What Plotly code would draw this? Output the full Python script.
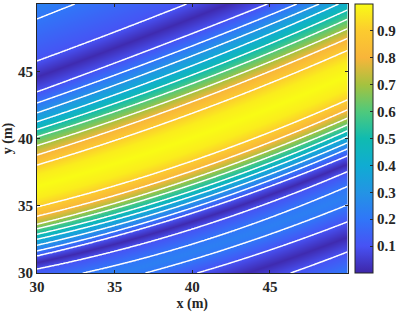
import numpy as np
import plotly.graph_objects as go

# Field value of each white iso-line / band extreme, read from bottom to top
levels = [0.2, 0.1, 0.01, 0.1, 0.2, 0.23, 0.2, 0.1, 0.01, 0.1, 0.2, 0.3, 0.4, 0.5, 0.6, 0.7, 0.8, 0.9, 0.97, 1.0,
          0.97, 0.9, 0.8, 0.7, 0.6, 0.5, 0.4, 0.3, 0.2, 0.1, 0.01, 0.1, 0.2, 0.23]

# y (m) at which each of these levels is crossed, read at five x positions
x_columns = [30, 35, 40, 45, 50]
y_at_x30 = [23.53, 25.02, 26.07, 27.12, 28.11, 28.65, 29.35, 30.32, 30.82, 31.30, 31.66, 32.08, 32.53, 32.90, 33.31, 33.64, 34.24, 34.93, 35.62, 36.47,
            37.32, 38.01, 38.77, 39.46, 40.13, 40.68, 41.25, 41.92, 42.66, 43.48, 44.66, 45.84, 48.88, 49.78]
y_at_x35 = [24.80, 26.28, 27.34, 28.40, 29.44, 29.96, 30.48, 31.60, 32.14, 32.68, 33.05, 33.49, 33.92, 34.30, 34.74, 35.13, 35.72, 36.43, 37.21, 38.16,
            39.11, 39.89, 40.66, 41.38, 42.01, 42.59, 43.23, 43.94, 44.67, 45.58, 46.64, 47.70, 51.19, 52.08]
y_at_x40 = [26.13, 27.62, 28.75, 29.87, 30.94, 31.56, 32.18, 33.27, 33.87, 34.48, 34.86, 35.30, 35.72, 36.12, 36.59, 37.03, 37.61, 38.35, 39.14, 40.12,
            41.10, 41.90, 42.75, 43.46, 44.09, 44.72, 45.43, 46.13, 46.88, 47.79, 49.05, 50.30, 53.50, 54.38]
y_at_x45 = [27.99, 29.48, 30.59, 31.71, 32.90, 33.53, 34.16, 35.28, 35.87, 36.47, 36.91, 37.36, 37.81, 38.22, 38.68, 39.15, 39.74, 40.48, 41.28, 42.26,
            43.24, 44.05, 44.98, 45.65, 46.36, 47.06, 47.77, 48.51, 49.22, 50.11, 51.32, 52.53, 55.73, 56.62]
y_at_x50 = [30.10, 31.58, 32.70, 33.81, 35.06, 35.74, 36.42, 37.53, 38.11, 38.70, 39.22, 39.67, 40.13, 40.56, 41.00, 41.50, 42.12, 42.86, 43.70, 44.72,
            45.74, 46.58, 47.45, 48.19, 48.88, 49.55, 50.30, 50.89, 51.56, 52.38, 53.62, 54.91, 58.10, 59.00]

x_ticks = [30, 35, 40, 45]
y_ticks = [30, 35, 40, 45]
cbar_ticks = [0.1, 0.2, 0.3, 0.4, 0.5, 0.6, 0.7, 0.8, 0.9]

parula = [
    [0.00, "#3E26A8"], [0.10, "#4752F4"], [0.20, "#3076F8"], [0.30, "#2394E4"],
    [0.40, "#10ACD2"], [0.50, "#10BBB0"], [0.60, "#4FC97C"], [0.70, "#A5C23F"],
    [0.80, "#F8B53A"], [0.90, "#FCCB2F"], [1.00, "#F9FB15"],
]

crossings = np.array([y_at_x30, y_at_x35, y_at_x40, y_at_x45, y_at_x50])
xs = np.linspace(30, 50, 311)
ys = np.linspace(30, 50, 270)
fits = [np.polyfit(x_columns, crossings[:, i], 2) for i in range(len(levels))]
z = np.empty((len(ys), len(xs)))
for j, x in enumerate(xs):
    y_cross = np.array([np.polyval(f, x) for f in fits])
    z[:, j] = np.interp(ys, y_cross, levels)
z = np.round(z, 4)

dark = "#262626"
font = dict(family="Liberation Serif", size=15, color=dark, weight="bold")

fig = go.Figure()
fig.add_trace(go.Heatmap(
    x=xs, y=ys, z=z, zmin=0, zmax=1, zsmooth="best", colorscale=parula,
    colorbar=dict(
        x=318 / 359, xanchor="left", xpad=0, y=0.5, yanchor="middle", ypad=0, len=1.0,
        thickness=18, thicknessmode="pixels", outlinecolor=dark, outlinewidth=1,
        ticks="inside", ticklen=3, tickcolor=dark, tickvals=cbar_ticks,
        tickformat=".1f", tickfont=font,
    ),
))
fig.add_trace(go.Contour(
    x=xs, y=ys, z=z, showscale=False, hoverinfo="skip",
    contours=dict(coloring="none", start=0.1, end=0.9, size=0.1),
    line=dict(color="white", width=1.5, smoothing=0.6),
))
axis = dict(range=[30, 50], showgrid=False, zeroline=False, showline=True, mirror="ticks",
            linecolor=dark, linewidth=1, ticks="inside", ticklen=3, tickcolor=dark,
            tickfont=font, tickmode="array")
fig.update_layout(
    width=404, height=316, autosize=False,
    margin=dict(l=37, r=8, t=4, b=43),
    plot_bgcolor="white", paper_bgcolor="white",
    font=font,
    xaxis=dict(axis, domain=[0, 310.5 / 359], tickvals=x_ticks,
               title=dict(text="x (m)", font=dict(font, size=14), standoff=4)),
    yaxis=dict(axis, tickvals=y_ticks, title=dict(text="y (m)", font=dict(font, size=14), standoff=4)),
)
fig.write_html("out.html",
               post_script="document.body.style.margin='0';document.body.style.overflow='hidden';",
               config=dict(displayModeBar=False))
